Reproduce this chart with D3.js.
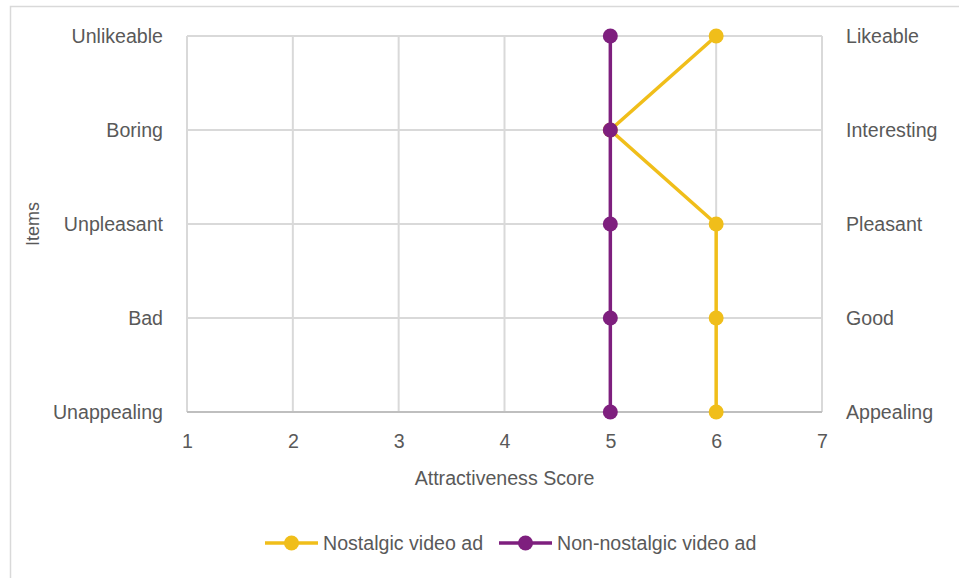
<!DOCTYPE html>
<html>
<head>
<meta charset="utf-8">
<script src="https://cdn.jsdelivr.net/npm/d3@7"></script>
<style>
  body { margin: 0; background: #fff; }
  text { font-family: "Liberation Sans", Arial, sans-serif; fill: #595959; }
</style>
</head>
<body>
<div id="container"></div>
<script>
/* DATA */
const leftItems = ["Unlikeable", "Boring", "Unpleasant", "Bad", "Unappealing"];
const rightItems = ["Likeable", "Interesting", "Pleasant", "Good", "Appealing"];
const nostalgic = [6, 5, 6, 6, 6];
const nonNostalgic = [5, 5, 5, 5, 5];
const xTicks = [1, 2, 3, 4, 5, 6, 7];
const seriesNames = ["Nostalgic video ad", "Non-nostalgic video ad"];

/* CONSTANTS */
const width = 959, height = 578;
const margin = { top: 36, left: 187, right: 137, bottom: 166 };
const colors = ["#F0BE1A", "#7E1F7E"];
const fontSize = "19.6px";

const svg = d3.select("#container")
  .append("svg")
  .attr("width", width)
  .attr("height", height);

// chart border
svg.append("rect")
  .attr("x", 10.5).attr("y", 6.5)
  .attr("width", 1000).attr("height", 700)
  .attr("fill", "none")
  .attr("stroke", "#d9d9d9")
  .attr("stroke-width", 1.5);

// SCALES
const xScale = d3.scaleLinear()
  .domain([1, 7])
  .range([margin.left, width - margin.right]);

const yScale = d3.scalePoint()
  .domain(d3.range(leftItems.length))
  .range([margin.top, height - margin.bottom]);

// GRID
svg.append("g")
  .selectAll("line.v")
  .data(xTicks)
  .join("line")
  .attr("x1", d => xScale(d)).attr("x2", d => xScale(d))
  .attr("y1", margin.top).attr("y2", height - margin.bottom)
  .attr("stroke", "#d9d9d9").attr("stroke-width", 2);

svg.append("g")
  .selectAll("line.h")
  .data(d3.range(leftItems.length - 1))
  .join("line")
  .attr("x1", xScale(1)).attr("x2", xScale(7))
  .attr("y1", d => yScale(d)).attr("y2", d => yScale(d))
  .attr("stroke", "#d9d9d9").attr("stroke-width", 2);

// bottom axis line
svg.append("line")
  .attr("x1", xScale(1)).attr("x2", xScale(7))
  .attr("y1", yScale(4)).attr("y2", yScale(4))
  .attr("stroke", "#bfbfbf").attr("stroke-width", 2);

// AXES (labels only)
const xAxis = d3.axisBottom(xScale).tickValues(xTicks).tickFormat(d3.format("d"))
  .tickSize(0).tickPadding(22);
const xAxisGroup = svg.append("g")
  .attr("transform", `translate(0,${height - margin.bottom})`)
  .call(xAxis);
xAxisGroup.select(".domain").remove();
xAxisGroup.selectAll("text").style("font-size", fontSize).attr("fill", "#595959");

const yLeft = d3.axisLeft(yScale).tickFormat(i => leftItems[i]).tickSize(0).tickPadding(24);
const yLeftGroup = svg.append("g")
  .attr("transform", `translate(${margin.left},0)`)
  .call(yLeft);
yLeftGroup.select(".domain").remove();
yLeftGroup.selectAll("text").style("font-size", fontSize).attr("fill", "#595959");

const yRight = d3.axisRight(yScale).tickFormat(i => rightItems[i]).tickSize(0).tickPadding(24);
const yRightGroup = svg.append("g")
  .attr("transform", `translate(${width - margin.right},0)`)
  .call(yRight);
yRightGroup.select(".domain").remove();
yRightGroup.selectAll("text").style("font-size", fontSize).attr("fill", "#595959");

// axis titles
svg.append("text")
  .attr("x", xScale(4)).attr("y", 485)
  .attr("text-anchor", "middle")
  .style("font-size", fontSize)
  .text("Attractiveness Score");

svg.append("text")
  .attr("transform", `translate(39,${yScale(2)}) rotate(-90)`)
  .attr("text-anchor", "middle")
  .style("font-size", "18px")
  .text("Items");

// LINES
const line = d3.line()
  .x(d => xScale(d))
  .y((d, i) => yScale(i));

[nostalgic, nonNostalgic].forEach((vals, s) => {
  svg.append("path")
    .datum(vals)
    .attr("d", line)
    .attr("fill", "none")
    .attr("stroke", colors[s])
    .attr("stroke-width", 3.5);
  svg.append("g")
    .selectAll("circle")
    .data(vals)
    .join("circle")
    .attr("cx", d => xScale(d))
    .attr("cy", (d, i) => yScale(i))
    .attr("r", 7.5)
    .attr("fill", colors[s]);
});

// LEGEND
const legendX = [265, 499];
const legendY = 543;
seriesNames.forEach((name, s) => {
  const g = svg.append("g").attr("transform", `translate(${legendX[s]},${legendY})`);
  g.append("line").attr("x1", 0).attr("x2", 53).attr("y1", 0).attr("y2", 0)
    .attr("stroke", colors[s]).attr("stroke-width", 3.5);
  g.append("circle").attr("cx", 26.5).attr("cy", 0).attr("r", 7.5).attr("fill", colors[s]);
  g.append("text").attr("x", 58).attr("y", 0).attr("dy", "0.35em")
    .style("font-size", fontSize).text(name);
});
</script>
</body>
</html>
